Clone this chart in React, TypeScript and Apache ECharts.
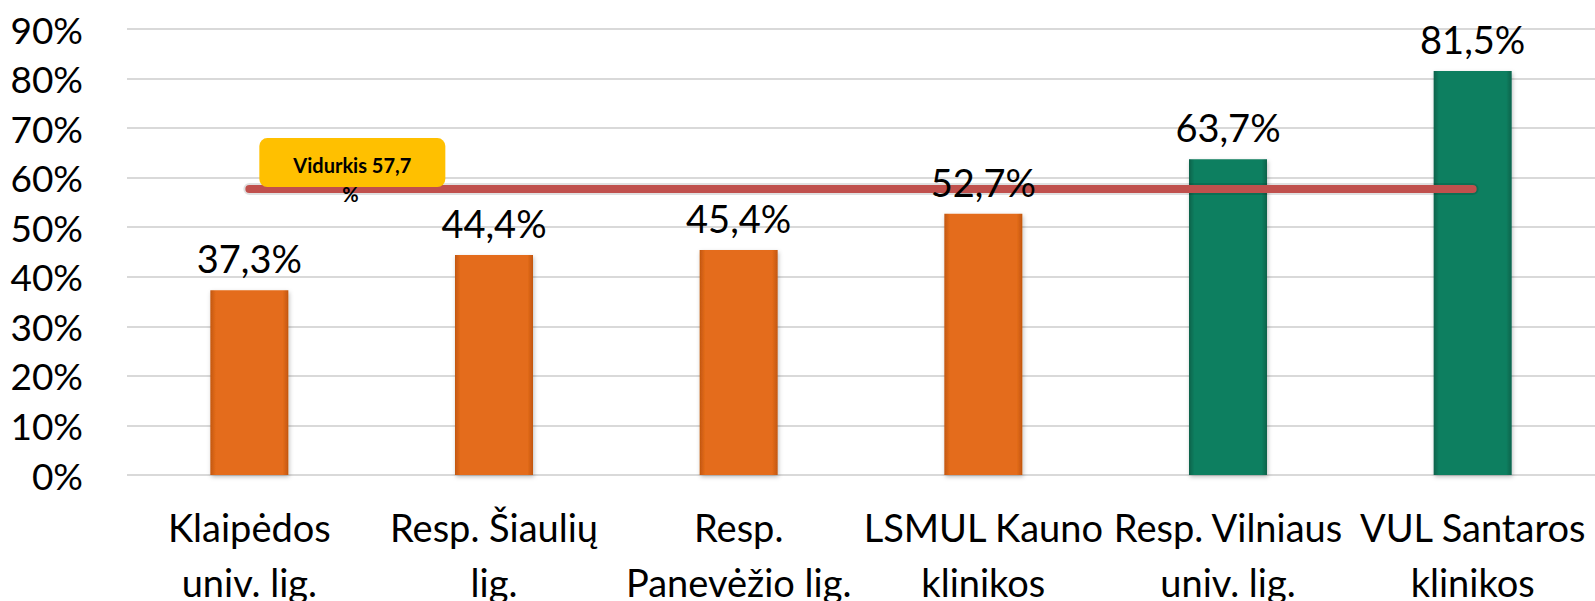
import React, { useEffect, useRef } from "react";
import * as echarts from "echarts";

const categories: string[] = [
  "Klaipėdos\nuniv. lig.",
  "Resp. Šiaulių\nlig.",
  "Resp.\nPanevėžio lig.",
  "LSMUL Kauno\nklinikos",
  "Resp. Vilniaus\nuniv. lig.",
  "VUL Santaros\nklinikos",
];
const values: number[] = [37.3, 44.4, 45.4, 52.7, 63.7, 81.5];
const AVERAGE = 57.7;
const averageLabel = "Vidurkis 57,7";
const yTicks = { min: 0, max: 90, interval: 10 };

const FONT = "Lato, 'Open Sans', sans-serif";

function barColor(v: number) {
  const green = v > AVERAGE;
  const base = green ? "#0B7F60" : "#E46C1A";
  const edge = green ? "#07624A" : "#C2560F";
  return new echarts.graphic.LinearGradient(0, 0, 1, 0, [
    { offset: 0, color: edge },
    { offset: 0.07, color: base },
    { offset: 0.93, color: base },
    { offset: 1, color: edge },
  ]);
}

export default function App() {
  const ref = useRef<HTMLDivElement>(null);
  useEffect(() => {
    if (!ref.current) return;
    const chart = echarts.init(ref.current, null, { renderer: "svg" });
    chart.setOption({
      animation: false,
      backgroundColor: "#ffffff",
      grid: {
        left: 127,
        right: 0,
        top: 29,
        bottom: 126,
        containLabel: false,
        outerBoundsMode: "none",
      },
      xAxis: {
        type: "category",
        data: categories,
        axisLine: { show: false },
        axisTick: { show: false },
        axisLabel: {
          interval: 0,
          margin: 24,
          fontFamily: FONT,
          fontSize: 38,
          lineHeight: 55,
          color: "#000000",
          verticalAlign: "top",
        },
      },
      yAxis: {
        type: "value",
        min: yTicks.min,
        max: yTicks.max,
        interval: yTicks.interval,
        axisLine: { show: false },
        axisTick: { show: false },
        splitLine: { lineStyle: { color: "#D9D9D9", width: 2 } },
        axisLabel: {
          margin: 44,
          fontFamily: FONT,
          fontSize: 37,
          color: "#000000",
          formatter: (v: number) => `${v}%`,
        },
      },
      series: [
        {
          type: "bar",
          z: 2,
          barWidth: 78,
          data: values.map((v) => ({
            value: v,
            itemStyle: {
              color: barColor(v),
              shadowColor: "rgba(0,0,0,0.25)",
              shadowBlur: 4,
              shadowOffsetX: 1,
              shadowOffsetY: 2,
            },
          })),
        },
        {
          type: "line",
          z: 3,
          data: categories.map(() => AVERAGE),
          symbol: "none",
          silent: true,
          lineStyle: { color: "rgba(0,0,0,0.12)", width: 12, cap: "round" },
        },
        {
          type: "line",
          z: 3,
          data: categories.map(() => AVERAGE),
          symbol: "none",
          lineStyle: { color: "#C0504D", width: 8, cap: "round" },
        },
        {
          type: "bar",
          z: 4,
          barWidth: 78,
          barGap: "-100%",
          data: values,
          itemStyle: { color: "rgba(0,0,0,0)" },
          label: {
            show: true,
            position: "top",
            distance: 13,
            fontFamily: FONT,
            fontSize: 38,
            color: "#000000",
            formatter: (p: any) => `${String(p.value).replace(".", ",")}%`,
          },
        },
      ],
    });
    const p = chart.convertToPixel({ xAxisIndex: 0, yAxisIndex: 0 }, [0, AVERAGE]) as number[];
    chart.setOption({
      graphic: [
        {
          type: "rect",
          z: 10,
          shape: { x: p[0] + 10, y: p[1] - 51, width: 186, height: 49, r: 8 },
          style: { fill: "#FFC000" },
        },
        {
          type: "text",
          z: 11,
          x: p[0] + 103,
          y: p[1] - 24,
          style: {
            text: averageLabel,
            fontFamily: FONT,
            fontWeight: "bold",
            fontSize: 20,
            fill: "#000000",
            align: "center",
            verticalAlign: "middle",
          },
        },
        {
          type: "text",
          z: 11,
          x: p[0] + 101,
          y: p[1] + 5,
          style: {
            text: "%",
            fontFamily: FONT,
            fontWeight: "bold",
            fontSize: 20,
            fill: "#000000",
            align: "center",
            verticalAlign: "middle",
          },
        },
      ],
    });
    return () => chart.dispose();
  }, []);
  return (
    <div
      ref={ref}
      style={{ position: "fixed", left: 0, top: 0, width: 1595, height: 601, background: "#fff" }}
    />
  );
}
